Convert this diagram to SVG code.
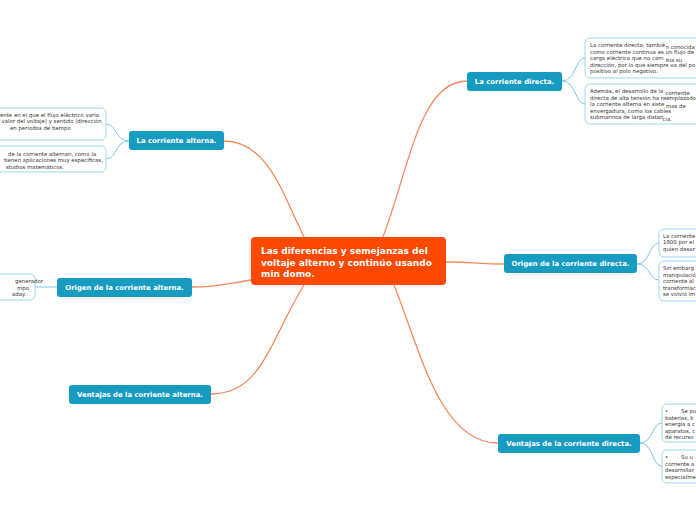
<svg xmlns="http://www.w3.org/2000/svg" width="696" height="520" viewBox="0 0 696 520">
<style>
.branch{fill:none;stroke:#F58A5E;stroke-width:1.3}
.leafc{fill:none;stroke:#7CC8E8;stroke-width:1}
.node rect{fill:#189BC1}
.node text{fill:#fff;font-family:"DejaVu Sans",Verdana,sans-serif;font-weight:bold;font-size:6.9px;text-anchor:middle}
.leaf rect{fill:#fff;stroke:#9FD6EE;stroke-width:1}
.leaf text{fill:#333;font-family:"DejaVu Sans",Verdana,sans-serif;font-size:5.4px}
.center rect{fill:#FF4800}
.center text{fill:#fff;font-family:"DejaVu Sans",Verdana,sans-serif;font-weight:bold;font-size:9px}
</style>
<rect width="696" height="520" fill="#fff"/>
<g id="connectors">
<path class="branch" d="M383,237 C410,165 420,81 467,81"/>
<path class="branch" d="M224,141 C268,141 283,195 304,237"/>
<path class="branch" d="M446,262 C475,262 480,264 504,264"/>
<path class="branch" d="M251,280 C225,284 215,287 192,287"/>
<path class="branch" d="M304,285 C270,340 262,394 211,394"/>
<path class="branch" d="M394,285 C420,350 440,443 498,443"/>
<path class="leafc" d="M562,81 C576,81 575,58 585,58 M562,81 C576,81 575,104 585,104"/>
<path class="leafc" d="M129,141 C115,141 117,124 106,124 M129,141 C115,141 117,159 106,159"/>
<path class="leafc" d="M58,287 L35,287"/>
<path class="leafc" d="M637,264 C650,264 649,243 659,243 M637,264 C650,264 649,280 659,280"/>
<path class="leafc" d="M640,443 C653,443 652,423 662,423 M640,443 C653,443 652,466 662,466"/>
</g>
<g id="center" class="center">
<rect x="251" y="237" width="195" height="48" rx="4"/>
<text x="261" y="254">Las diferencias y semejanzas del</text>
<text x="261" y="265.5">voltaje alterno y continúo usando</text>
<text x="261" y="277">min domo.</text>
</g>
<g id="n-directa" class="node"><rect x="467" y="72" width="95" height="19" rx="3"/><text x="514.5" y="84">La corriente directa.</text></g>
<g id="n-alterna" class="node"><rect x="129" y="131" width="95" height="19" rx="3"/><text x="176.5" y="143">La corriente alterna.</text></g>
<g id="n-origen-directa" class="node"><rect x="504" y="254" width="133" height="19" rx="3"/><text x="570.5" y="266">Origen de la corriente directa.</text></g>
<g id="n-origen-alterna" class="node"><rect x="57" y="278" width="135" height="19" rx="3"/><text x="124.5" y="290">Origen de la corriente alterna.</text></g>
<g id="n-ventajas-alterna" class="node"><rect x="69" y="385" width="142" height="19" rx="3"/><text x="140" y="397">Ventajas de la corriente alterna.</text></g>
<g id="n-ventajas-directa" class="node"><rect x="498" y="434" width="142" height="19" rx="3"/><text x="569" y="446">Ventajas de la corriente directa.</text></g>
<g id="l-directa-1" class="leaf"><rect x="585" y="38" width="130" height="40" rx="5"/>
<text x="590" y="47">La corriente directa, tambié</text><text x="665.5" y="48.5">n conocida</text>
<text x="590" y="53.5">como corriente continua es un flujo de</text>
<text x="590" y="60">carga eléctrica que no cam</text><text x="666" y="61.5">bia su</text>
<text x="590" y="66.5">dirección, por lo que siempre va del po</text>
<text x="590" y="73">positivo al polo negativo.</text></g>
<g id="l-directa-2" class="leaf"><rect x="585" y="84" width="130" height="40" rx="5"/>
<text x="590" y="93">Además, el desarrollo de la</text><text x="665.5" y="95">corriente</text>
<text x="590" y="99.5">directa de alta tensión ha reemplazado</text>
<text x="590" y="106">la corriente alterna en siste</text><text x="666" y="108">mas de</text>
<text x="590" y="112.5">envergadura, como los cables</text>
<text x="590" y="119">submarinos de larga distan</text><text x="662.5" y="120.5">cia.</text></g>
<g id="l-alterna-1" class="leaf"><rect x="-30" y="108" width="136" height="32" rx="5"/>
<text x="0" y="116.5">ente en el que el flujo eléctrico varía</text>
<text x="1.5" y="123">valor del voltaje) y sentido (dirección</text>
<text x="10" y="129.5">en periodos de tiempo</text></g>
<g id="l-alterna-2" class="leaf"><rect x="-30" y="146" width="136" height="26" rx="5"/>
<text x="8" y="155.5">de la corriente alternan, como la</text>
<text x="4" y="162">tienen aplicaciones muy específicas,</text>
<text x="6" y="168.5">studios matemáticos.</text></g>
<g id="l-origen-alterna" class="leaf"><rect x="-30" y="274" width="65" height="26" rx="5"/>
<text x="15" y="283">generador</text>
<text x="17" y="289.5">mpo</text>
<text x="12" y="296">aday.</text></g>
<g id="l-origen-directa-1" class="leaf"><rect x="659" y="229" width="60" height="28" rx="5"/>
<text x="663" y="237.5">La corriente</text>
<text x="663" y="244">1800 por el</text>
<text x="663" y="250.5">quien desar</text></g>
<g id="l-origen-directa-2" class="leaf"><rect x="659" y="261" width="60" height="40" rx="5"/>
<text x="663" y="270">Sin embarg</text>
<text x="663" y="276.5">manipulació</text>
<text x="663" y="283">corriente al</text>
<text x="663" y="289.5">transformac</text>
<text x="663" y="296">se volvió im</text></g>
<g id="l-ventajas-directa-1" class="leaf"><rect x="662" y="404" width="60" height="38" rx="5"/>
<text x="665" y="413">•<tspan x="681">Se pu</tspan></text>
<text x="665" y="419.5">baterías, k</text>
<text x="665" y="426">energía a c</text>
<text x="665" y="432.5">aparatos, c</text>
<text x="665" y="439">de recurso</text></g>
<g id="l-ventajas-directa-2" class="leaf"><rect x="662" y="450" width="60" height="33" rx="5"/>
<text x="665" y="459">•<tspan x="681">Su u</tspan></text>
<text x="665" y="465.5">corriente a</text>
<text x="665" y="472">desarrollar</text>
<text x="665" y="478.5">especialme</text></g>
</svg>
